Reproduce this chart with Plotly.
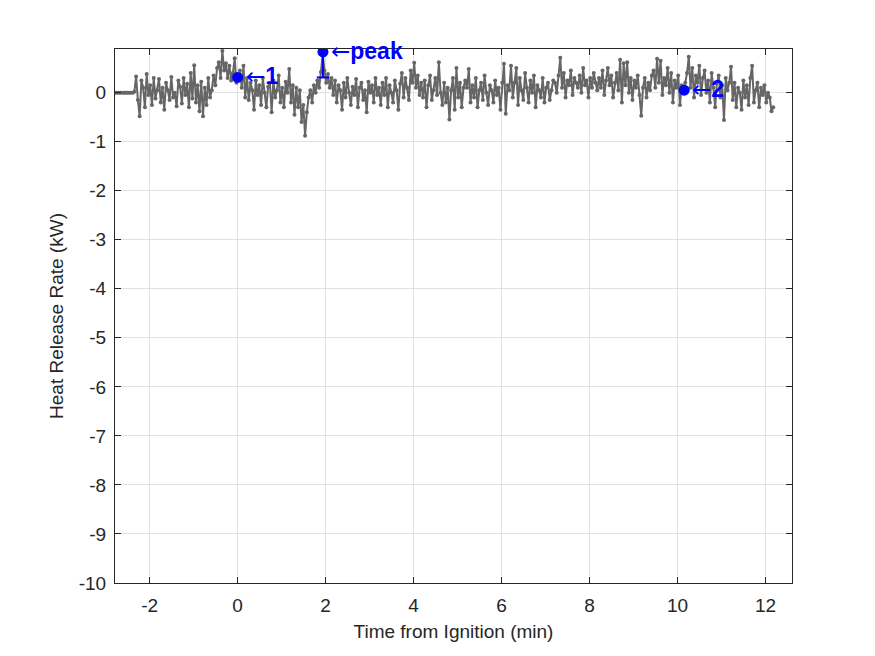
import plotly.graph_objects as go

# ---- data ----
t_start = -2.786          # min
t_step = 0.04             # min between samples
hrr = [
    0, 0, 0, 0, 0, 0, 0, 0, 0, 0, 0, 0.02, 0.33, -0.15, -0.48, 0.25, 0.1, -0.3, 0.38, -0.05, 0.15, -0.25, 0.3, -0.12, 0.05,
    0.28, -0.2, 0.1, -0.35, 0.2, 0.05, -0.15, 0.32, -0.1, 0.0, -0.28, 0.25, 0.12, -0.22, 0.3, -0.05, 0.18, -0.3, 0.4, -0.12, 0.56, -0.2, 0.15, -0.38, 0.22,
    -0.48, 0.1, -0.25, 0.3, -0.1, 0.05, 0.35, 0.15, 0.5, 0.62, 0.3, 0.85, 0.45, 0.6, 0.3, 0.55, 0.25, 0.4, 0.7, 0.2, 0.31, 0.45, 0.1, 0.55, -0.1,
    0.3, -0.15, 0.2, 0.05, -0.35, 0.25, -0.05, 0.15, -0.25, 0.3, 0.0, -0.3, 0.12, 0.2, -0.4, 0.25, -0.1, 0.05, 0.35, -0.2, 0.1, -0.3, 0.22, 0.0, 0.48,
    -0.2, 0.15, -0.45, 0.1, -0.3, 0.05, -0.6, -0.25, -0.88, -0.4, -0.1, 0.05, -0.2, 0.15, 0.0, 0.25, 0.1, 0.42, 0.8, 0.45, 0.2, 0.38, 0.1, 0.3, -0.05,
    0.25, -0.2, 0.15, 0.05, -0.35, 0.2, -0.1, 0.3, 0.0, -0.25, 0.12, -0.05, 0.28, -0.3, 0.1, 0.2, -0.15, 0.05, -0.4, 0.22, 0.0, 0.15, -0.2, 0.3, -0.05,
    0.1, -0.25, 0.2, -0.05, 0.3, -0.3, 0.15, 0.0, -0.2, 0.25, 0.05, -0.35, 0.18, 0.4, -0.1, 0.3, 0.1, -0.15, 0.45, 0.2, 0.61, 0.1, 0.35, -0.05, 0.2,
    -0.1, 0.25, -0.3, 0.15, 0.35, -0.15, 0.05, 0.3, -0.05, 0.62, 0.0, -0.25, 0.2, -0.2, 0.1, -0.55, 0.05, 0.3, -0.35, 0.5, -0.1, 0.2, -0.3, 0.1, 0.25,
    0.1, 0.48, -0.2, 0.15, -0.1, 0.3, -0.3, 0.05, 0.2, -0.15, 0.35, 0.0, -0.25, 0.15, 0.05, -0.2, 0.25, -0.05, 0.1, -0.35, 0.2, 0.59, -0.43, 0.15, 0.05,
    0.55, -0.1, 0.2, 0.5, -0.25, 0.3, 0.05, -0.15, 0.4, 0.1, -0.2, 0.25, 0.0, 0.35, -0.3, 0.15, 0.05, -0.1, 0.3, -0.2, 0.1, 0.2, -0.15, 0.05, 0.25,
    0.2, 0.0, 0.35, 0.71, 0.1, 0.4, -0.1, 0.25, 0.15, 0.45, -0.05, 0.3, 0.2, 0.1, 0.35, 0.0, 0.5, 0.15, 0.25, -0.1, 0.3, 0.1, 0.4, 0.2, 0.05,
    0.3, 0.1, 0.45, -0.05, 0.25, 0.5, 0.15, 0.35, -0.1, 0.2, 0.4, 0.05, 0.67, -0.2, 0.6, 0.15, 0.62, 0.0, 0.3, -0.15, 0.25, 0.1, 0.35, -0.05, -0.47,
    0.1, 0.3, -0.1, 0.2, 0.05, 0.35, 0.45, 0.1, 0.69, 0.2, 0.65, -0.05, 0.3, 0.15, 0.5, 0.0, 0.4, -0.2, 0.25, 0.1, 0.35, -0.25, 0.15, 0.05, 0.2,
    0.4, 0.73, 0.1, 0.5, -0.1, 0.35, 0.2, 0.55, -0.05, 0.3, 0.45, 0.0, 0.25, -0.2, 0.4, 0.1, -0.3, 0.2, 0.35, -0.1, 0.15, -0.56, 0.3, 0.05, 0.2,
    0.53, -0.15, 0.2, -0.3, 0.1, 0.0, -0.35, 0.25, -0.1, 0.15, -0.25, 0.3, 0.55, -0.2, 0.05, 0.2, -0.3, 0.1, -0.05, 0.15, -0.2, 0.0, -0.1, -0.38, -0.3,
]
time_min = [t_start + i * t_step for i in range(len(hrr))]

event_labels = ["1", "peak", "2"]
event_time = [0.0, 1.94, 10.15]
event_hrr = [0.31, 0.83, 0.05]
peak_stem_bottom = 0.31
peak_cap_halfwidth = 0.14

x_ticks = [-2, 0, 2, 4, 6, 8, 10, 12]
y_ticks = [0, -1, -2, -3, -4, -5, -6, -7, -8, -9, -10]
x_range = [-2.786, 12.6]
y_range = [-10, 0.89]

FONT = "Liberation Sans, Arial, Helvetica, sans-serif"
AX_COLOR = "#262626"
BLUE = "#0000ff"

fig = go.Figure()
fig.add_trace(go.Scatter(
    x=time_min, y=hrr, mode="lines+markers",
    line=dict(color="#666666", width=2),
    marker=dict(color="#666666", size=4),
    showlegend=False, hoverinfo="skip"))

# stem under the peak marker with a small cap
pk = event_labels.index("peak")
px = event_time[pk]
fig.add_trace(go.Scatter(
    x=[px, px, None, px - peak_cap_halfwidth, px + peak_cap_halfwidth],
    y=[event_hrr[pk], peak_stem_bottom, None, peak_stem_bottom, peak_stem_bottom],
    mode="lines", line=dict(color=BLUE, width=2),
    showlegend=False, hoverinfo="skip"))

fig.add_trace(go.Scatter(
    x=event_time, y=event_hrr, mode="markers",
    marker=dict(color=BLUE, size=11),
    showlegend=False, hoverinfo="skip"))

for lab, tx, ty in zip(event_labels, event_time, event_hrr):
    fig.add_annotation(
        x=tx, y=ty,
        text="<span style='font-family:DejaVu Sans;font-weight:normal'>\u2190</span><b>" + lab + "</b>",
        showarrow=False,
        xanchor="left", yanchor="middle", xshift=6, yshift=1,
        font=dict(family=FONT, size=23, color=BLUE))

axis_common = dict(
    showline=True, linecolor=AX_COLOR, linewidth=1, mirror="ticks",
    ticks="inside", ticklen=6, tickcolor=AX_COLOR, tickwidth=1,
    showgrid=True, gridcolor="#e1e1e1", gridwidth=1,
    zeroline=False, tickfont=dict(family=FONT, size=19, color=AX_COLOR),
)

fig.update_xaxes(
    range=x_range, tickvals=x_ticks, ticktext=[str(v) for v in x_ticks],
    ticklabelstandoff=5,
    title=dict(text="Time from Ignition (min)", standoff=9,
               font=dict(family=FONT, size=19, color=AX_COLOR)),
    **axis_common)
fig.update_yaxes(
    range=y_range, tickvals=y_ticks, ticktext=[str(v) for v in y_ticks],
    ticklabelstandoff=4,
    title=dict(text="Heat Release Rate (kW)", standoff=10,
               font=dict(family=FONT, size=19, color=AX_COLOR)),
    **axis_common)

fig.update_layout(
    width=875, height=656,
    margin=dict(l=115, r=83, t=49, b=73),
    paper_bgcolor="white", plot_bgcolor="white",
    font=dict(family=FONT),
)

fig.write_html("out.html")
